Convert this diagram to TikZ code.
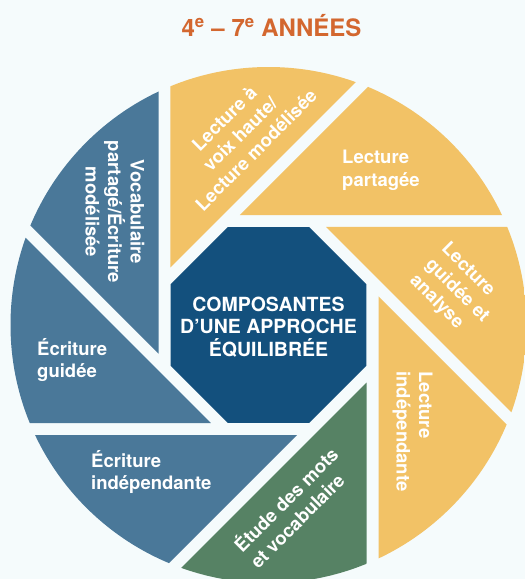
\documentclass[tikz,border=0pt]{standalone}
\usepackage{fontspec}
\setmainfont{TeX Gyre Heros}

\definecolor{fond}{HTML}{F5FBFC}
\definecolor{jaune}{HTML}{F2C266}
\definecolor{bleu}{HTML}{4A7899}
\definecolor{marine}{HTML}{13507D}
\definecolor{vert}{HTML}{568264}
\definecolor{orange}{HTML}{D3672F}

\begin{document}
\begin{tikzpicture}[x=1pt, y=1pt,
    txt/.style={text=white, inner sep=0pt, font=\bfseries\fontsize{18.5}{22.5}\selectfont}]

\fill [fond] (0,0) rectangle (525,-579);
\useasboundingbox (0,0) rectangle (525,-579);

\coordinate (c) at (268.5,-325);

\begin{scope}
\clip (c) circle (258);
\foreach \a/\col in {180/bleu, 135/jaune, 90/jaune, 45/jaune, 0/jaune, -45/vert, -90/bleu, -135/bleu}
    \fill [\col, shift={(c)}, rotate=\a] (110,28.6) -- +(-90:600) -- +(-45:600) -- cycle;
\end{scope}

\fill [marine, shift={(c)}] (22.5:106.07) \foreach \a in {67.5,112.5,...,337.5} { -- (\a:106.07) } -- cycle;

\node [txt, align=center, font=\bfseries\fontsize{19.5}{22.5}\selectfont] (centre) at (268.5,-327)
       {COMPOSANTES\\D’UNE APPROCHE\\ÉQUILIBRÉE};

\node [text=orange, anchor=base, font=\bfseries\fontsize{24}{28}\selectfont] (titre) at (271.5,-36.5)
       {4\textsuperscript{e} – 7\textsuperscript{e} ANNÉES};

\node [txt, align=center, rotate=45]  (voix)    at (240,-134)   {Lecture à\\voix haute/\\Lecture modélisée};
\node [txt, align=left, anchor=north west] (partagee) at (342,-150) {Lecture\\partagée};
\node [txt, align=left, rotate=-45]   (guidee)  at (457,-291)   {Lecture\\guidée et\\analyse};
\node [txt, align=left, rotate=-90]   (lindep)  at (412.5,-431.5) {Lecture\\indépendante};
\node [txt, align=left, rotate=45]    (etude)   at (293,-507)   {Étude des mots\\et vocabulaire};
\node [txt, align=left, anchor=north west] (eindep) at (91,-450)  {Écriture\\indépendante};
\node [txt, align=left, anchor=north west] (eguid)  at (37,-338)  {Écriture\\guidée};
\node [txt, align=center, rotate=-90] (vocab)   at (115,-212)   {Vocabulaire\\partagé/Écriture\\modélisée};

\end{tikzpicture}
\end{document}
